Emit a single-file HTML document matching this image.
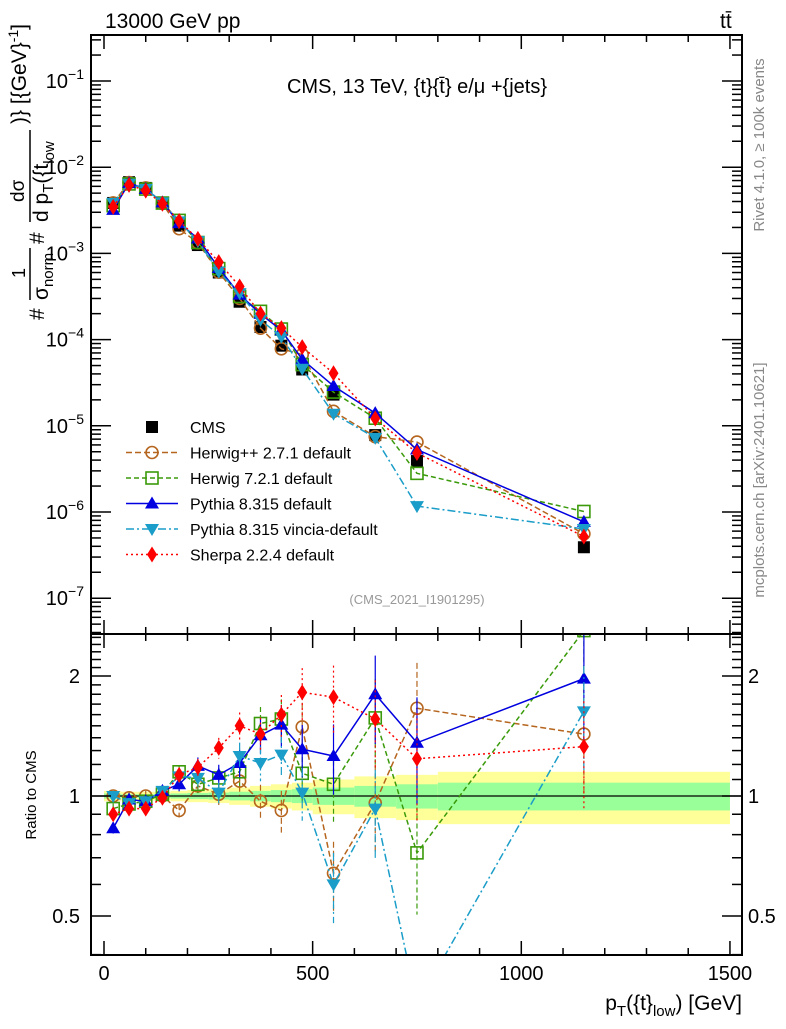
<!DOCTYPE html>
<html><head><meta charset="utf-8"><style>
body{margin:0;background:#fff}
svg text{font-family:"Liberation Sans",sans-serif}
</style></head><body>
<svg id="chart" width="786" height="1024" xmlns="http://www.w3.org/2000/svg">
<g id="bands"></g>
<g id="marks"></g>
<g id="axes"></g>
<text x="105" y="28" font-size="21">13000 GeV pp</text>
<text x="720" y="28" font-size="21">tt̄</text>
<text x="417" y="93" font-size="20" text-anchor="middle">CMS, 13 TeV, {t}{t̄} e/μ +{jets}</text>
<text x="417" y="604" font-size="13" fill="#999" text-anchor="middle">(CMS_2021_I1901295)</text>
<text transform="translate(764,145) rotate(-90)" font-size="15" fill="#888" text-anchor="middle">Rivet 4.1.0, ≥ 100k events</text>
<text transform="translate(764,480) rotate(-90)" font-size="15" fill="#888" text-anchor="middle">mcplots.cern.ch [arXiv:2401.10621]</text>
<g transform="translate(0,320) rotate(-90)">
 <text x="0" y="44" font-size="21">#</text>
 <text x="42" y="25" font-size="18">1</text>
 <line x1="20" x2="72" y1="30" y2="30" stroke="#000" stroke-width="1.5"/>
 <text x="20" y="48" font-size="21">σ<tspan font-size="15" dy="5">norm</tspan></text>
 <text x="76" y="44" font-size="21">#</text>
 <text x="118" y="24" font-size="19">dσ</text>
 <line x1="98" x2="190" y1="30" y2="30" stroke="#000" stroke-width="1.5"/>
 <text x="98" y="48" font-size="21">d p<tspan font-size="15" dy="5">T</tspan><tspan dy="-5">({t</tspan><tspan font-size="15" dy="6">low</tspan></text>
 <text x="196" y="26" font-size="21">)} [{GeV}<tspan font-size="14" dy="-8">-1</tspan><tspan dy="8">]</tspan></text>
</g>
<text transform="translate(36,795) rotate(-90)" font-size="15" text-anchor="middle">Ratio to CMS</text>
<text x="742" y="1010" font-size="21" text-anchor="end">p<tspan font-size="15" dy="6">T</tspan><tspan dy="-6">({t}</tspan><tspan font-size="15" dy="6">low</tspan><tspan dy="-6">) [GeV]</tspan></text>
<g id="legend"></g>
</svg>
<script>
const xs=[22,60,100,140,180,225,275,325,375,425,475,550,650,750,1150];
const binEdges=[0,40,80,120,160,200,250,300,350,400,450,500,600,700,800,1500];
const cmsVals=[3.85e-3,6.7e-3,5.75e-3,3.8e-3,2.1e-3,1.25e-3,6e-4,2.75e-4,1.4e-4,8.5e-5,4.5e-5,2.3e-5,7.8e-6,3.9e-6,3.9e-7];
const statHalf=[0.015,0.01,0.01,0.012,0.015,0.018,0.02,0.025,0.03,0.035,0.04,0.05,0.06,0.07,0.08];
const totHalf=[0.03,0.025,0.025,0.025,0.03,0.035,0.04,0.05,0.06,0.07,0.08,0.1,0.12,0.13,0.15];
const rHerwigpp=[1.0,0.99,1.0,1.0,0.92,1.06,1.01,1.09,0.97,0.92,1.49,0.64,0.96,1.66,1.43];
const rHerwig7=[0.93,0.955,0.97,1.01,1.15,1.07,1.11,1.15,1.52,1.56,1.14,1.07,1.57,0.72,2.6];
const rPythia=[0.83,0.98,0.97,1.03,1.07,1.19,1.13,1.21,1.42,1.51,1.31,1.26,1.8,1.36,1.97];
const rVincia=[1.0,0.96,0.97,1.03,1.12,1.11,1.02,1.26,1.21,1.27,1.02,0.6,0.93,0.3,1.63];
const rSherpa=[0.9,0.93,0.93,0.99,1.13,1.18,1.32,1.5,1.43,1.6,1.82,1.77,1.56,1.24,1.33];
const mcErr=[0.03,0.03,0.03,0.03,0.04,0.05,0.06,0.08,0.1,0.12,0.15,0.2,0.25,0.3,0.3];
const xTicks=[0,500,1000,1500];
const yDecades=[-1,-2,-3,-4,-5,-6,-7];
const rTicks=[0.5,1,2];

const NS="http://www.w3.org/2000/svg";
const L=91,R=742,T=35,MB=634,RB=955;
const X=v=>104+v*0.4173;
const Y=v=>81+(-1-Math.log10(v))*86.2;
const YR=r=>796-Math.log2(r)*120;
function mk(tag,attrs,parent){const e=document.createElementNS(NS,tag);for(const k in attrs)e.setAttribute(k,attrs[k]);parent.appendChild(e);return e;}
const bands=document.getElementById('bands'),marks=document.getElementById('marks'),axes=document.getElementById('axes'),legend=document.getElementById('legend');

for(let i=0;i<xs.length;i++){
  const x1=X(binEdges[i]),x2=X(binEdges[i+1]);
  const y=mk('rect',{x:x1,y:YR(1+totHalf[i]),width:x2-x1,height:YR(1-totHalf[i])-YR(1+totHalf[i]),fill:'#ffff99'},bands);
  
  
  const g=mk('rect',{x:x1,y:YR(1+statHalf[i]),width:x2-x1,height:YR(1-statHalf[i])-YR(1+statHalf[i]),fill:'#99ff99'},bands);
  
  
}
const one=mk('line',{x1:L,x2:R,y1:YR(1),y2:YR(1),stroke:'#000','stroke-width':1.2},bands);



const clipDefs=mk('defs',{},marks);
const c1=mk('clipPath',{id:'cm'},clipDefs);mk('rect',{x:L,y:T,width:R-L,height:MB-T},c1);
const c2=mk('clipPath',{id:'cr'},clipDefs);mk('rect',{x:L,y:MB,width:R-L,height:RB-MB},c2);

function marker(kind,color,x,y,parent){
  let e;
  if(kind==='sq') e=mk('rect',{x:x-6,y:y-6,width:12,height:12,fill:'#000'},parent);
  else if(kind==='circ') e=mk('circle',{cx:x,cy:y,r:6,fill:'none',stroke:color,'stroke-width':1.6},parent);
  else if(kind==='osq') e=mk('rect',{x:x-6,y:y-6,width:12,height:12,fill:'none',stroke:color,'stroke-width':1.6},parent);
  else if(kind==='tri') e=mk('polygon',{points:`${x},${y-7} ${x-7},${y+5} ${x+7},${y+5}`,fill:color},parent);
  else if(kind==='dtri') e=mk('polygon',{points:`${x},${y+7} ${x-7},${y-5} ${x+7},${y-5}`,fill:color},parent);
  else e=mk('polygon',{points:`${x},${y-8} ${x-5},${y} ${x},${y+8} ${x+5},${y}`,fill:color},parent);
  return e;
}
const series=[
 {name:'herwigpp',r:rHerwigpp,color:'#b5651d',dash:'6,3',m:'circ',label:'Herwig++ 2.7.1 default'},
 {name:'herwig7',r:rHerwig7,color:'#3a9a0a',dash:'5,3',m:'osq',label:'Herwig 7.2.1 default'},
 {name:'pythia',r:rPythia,color:'#0000e0',dash:'',m:'tri',label:'Pythia 8.315 default'},
 {name:'vincia',r:rVincia,color:'#1a9dc8',dash:'8,3,2,3',m:'dtri',label:'Pythia 8.315 vincia-default'},
 {name:'sherpa',r:rSherpa,color:'#ff0000',dash:'2,3',m:'dia',label:'Sherpa 2.2.4 default'}
];
const gc=mk('g',{'clip-path':'url(#cm)'},marks);
xs.forEach((x,i)=>{const e=marker('sq','#000',X(x),Y(cmsVals[i]),gc);
 
 });
series.forEach(s=>{
  const gm=mk('g',{'clip-path':'url(#cm)'},marks),gr=mk('g',{'clip-path':'url(#cr)'},marks);
  const ptsM=xs.map((x,i)=>X(x)+','+Y(cmsVals[i]*s.r[i])).join(' ');
  const ptsR=xs.map((x,i)=>X(x)+','+YR(s.r[i])).join(' ');
  const lm=mk('polyline',{points:ptsM,fill:'none',stroke:s.color,'stroke-width':1.5,'stroke-dasharray':s.dash},gm);
  
  
  const lr=mk('polyline',{points:ptsR,fill:'none',stroke:s.color,'stroke-width':1.5,'stroke-dasharray':s.dash},gr);
  
  
  xs.forEach((x,i)=>{
    const r=s.r[i],e=mcErr[i];
    const eb=mk('line',{x1:X(x),x2:X(x),y1:YR(r*(1+e)),y2:YR(r*(1-e)),stroke:s.color,'stroke-width':1.2,'stroke-dasharray':s.dash},gr);
    
    
    const a=marker(s.m,s.color,X(x),Y(cmsVals[i]*r),gm);
    
    
    const b=marker(s.m,s.color,X(x),YR(r),gr);
    
    
  });
});
const lg=[{m:'sq',color:'#000',label:'CMS',dash:null}].concat(series);
lg.forEach((s,i)=>{
  const y=427+i*25.5;
  if(s.dash!==null) mk('line',{x1:126,x2:178,y1:y,y2:y,stroke:s.color,'stroke-width':1.5,'stroke-dasharray':s.dash},legend);
  marker(s.m,s.color,152,y,legend);
  const t=mk('text',{x:190,y:y+6,'font-size':16},legend);t.textContent=s.label;
  
  
});
[[T,MB],[MB,RB]].forEach(([a,b])=>mk('rect',{x:L,y:a,width:R-L,height:b-a,fill:'none',stroke:'#000','stroke-width':2},axes));
for(let v=0;v<=1500;v+=100){
  const big=v%500===0,len=big?14:7;
  [[T,1],[MB,-1],[MB,1],[RB,-1]].forEach(([y0,d])=>mk('line',{x1:X(v),x2:X(v),y1:y0,y2:y0+d*len,stroke:'#000','stroke-width':1.5},axes));
}
xTicks.forEach(v=>{const t=mk('text',{x:X(v),y:980,'font-size':20,'text-anchor':'middle'},axes);t.textContent=v;
 
 });
for(let d=0;d>=-8;d--){
  for(let k=1;k<10;k++){
    const v=k*Math.pow(10,d),y=Y(v);if(y<T||y>MB)continue;
    const len=k===1?20:10;
    mk('line',{x1:L,x2:L+len,y1:y,y2:y,stroke:'#000','stroke-width':1.5},axes);
    mk('line',{x1:R,x2:R-len,y1:y,y2:y,stroke:'#000','stroke-width':1.5},axes);
  }
}
yDecades.forEach(d=>{const t=mk('text',{x:84,y:Y(Math.pow(10,d))+7,'font-size':20,'text-anchor':'end'},axes);
 t.innerHTML='10<tspan font-size="14" dy="-9">−'+(-d)+'</tspan>';
 
 });
[0.4,0.5,0.6,0.7,0.8,0.9,1,1.1,1.2,1.3,1.4,1.5,1.6,1.7,1.8,1.9,2,2.1,2.2,2.3,2.4,2.5].forEach(v=>{
  const y=YR(v);if(y<MB||y>RB)return;const len=rTicks.includes(v)?20:10;
  mk('line',{x1:L,x2:L+len,y1:y,y2:y,stroke:'#000','stroke-width':1.5},axes);
  mk('line',{x1:R,x2:R-len,y1:y,y2:y,stroke:'#000','stroke-width':1.5},axes);
});
rTicks.forEach(v=>{
  const a=mk('text',{x:80,y:YR(v)+7,'font-size':20,'text-anchor':'end'},axes);a.textContent=v;
  
  
  const b=mk('text',{x:748,y:YR(v)+7,'font-size':20},axes);b.textContent=v;
  
  
});
</script>
</body></html>
